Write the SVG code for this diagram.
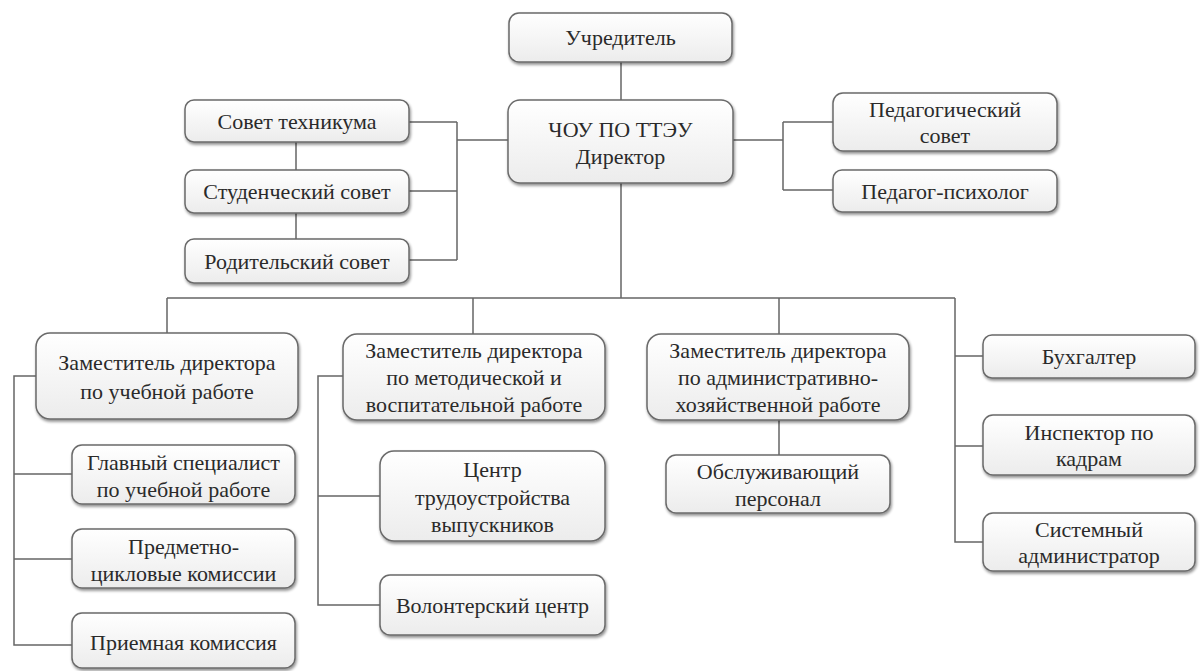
<svg xmlns="http://www.w3.org/2000/svg" width="1202" height="671" viewBox="0 0 1202 671" font-family="Liberation Serif, DejaVu Serif, Times New Roman, serif">
<defs>
<linearGradient id="g" x1="0" y1="0" x2="0" y2="1">
<stop offset="0" stop-color="#ffffff"/>
<stop offset="1" stop-color="#ececec"/>
</linearGradient>
<filter id="sh" x="-10%" y="-10%" width="130%" height="140%">
<feGaussianBlur in="SourceAlpha" stdDeviation="1.5"/>
<feOffset dx="1" dy="2" result="b"/>
<feComponentTransfer><feFuncA type="linear" slope="0.45"/></feComponentTransfer>
<feMerge><feMergeNode/><feMergeNode in="SourceGraphic"/></feMerge>
</filter>
</defs>
<style>
.b{fill:url(#g);stroke:#6a6a6a;stroke-width:1.5;filter:url(#sh)}
.t{font-size:22px;fill:#2a2a2a;text-anchor:middle}
.c{stroke:#666;stroke-width:1.5;fill:none}
</style>
<rect width="1202" height="671" fill="#fff"/>
<g id="connectors" class="c">
<path d="M621 62V100"/>
<path d="M621 183V298M167 298H955"/>
<path d="M296 142V170M296 213V239"/>
<path d="M409 122H457M409 191H457M409 260H457M457 122V260M457 140H508"/>
<path d="M733 140H783M783 122V190M783 122H833M783 190H833"/>
<path d="M167 298V333M473 298V334M779 298V334M779 420V455"/>
<path d="M36 376H14V645H72M14 474H72M14 559H72"/>
<path d="M343 376H318V605H380M318 496H380"/>
<path d="M955 298V542H983M955 356H983M955 446H983"/>
</g>
<g id="n-uchreditel"><rect class="b" x="509" y="13" width="223" height="49" rx="10"/><text class="t" x="620.5" y="45">Учредитель</text></g>
<g id="n-director"><rect class="b" x="508" y="100" width="225" height="83" rx="12"/><text class="t" x="620.5" y="137">ЧОУ ПО ТТЭУ</text><text class="t" x="620.5" y="164">Директор</text></g>
<g id="n-sovet-tech"><rect class="b" x="185" y="100" width="224" height="42" rx="9"/><text class="t" x="297" y="129">Совет техникума</text></g>
<g id="n-stud-sovet"><rect class="b" x="185" y="170" width="224" height="43" rx="9"/><text class="t" x="297" y="199">Студенческий совет</text></g>
<g id="n-rod-sovet"><rect class="b" x="185" y="239" width="224" height="44" rx="9"/><text class="t" x="297" y="269">Родительский совет</text></g>
<g id="n-ped-sovet"><rect class="b" x="833" y="93" width="224" height="58" rx="10"/><text class="t" x="945" y="117">Педагогический</text><text class="t" x="945" y="143">совет</text></g>
<g id="n-ped-psych"><rect class="b" x="833" y="170" width="224" height="42" rx="9"/><text class="t" x="945" y="199">Педагог-психолог</text></g>
<g id="n-zam-ucheb"><rect class="b" x="36" y="333" width="262" height="86" rx="14"/><text class="t" x="167" y="370">Заместитель директора</text><text class="t" x="167" y="399">по учебной работе</text></g>
<g id="n-glav-spec"><rect class="b" x="72" y="445" width="223" height="59" rx="10"/><text class="t" x="183.5" y="470">Главный специалист</text><text class="t" x="183.5" y="497">по учебной работе</text></g>
<g id="n-pck"><rect class="b" x="72" y="529" width="223" height="59" rx="10"/><text class="t" x="183.5" y="554">Предметно-</text><text class="t" x="183.5" y="581">цикловые комиссии</text></g>
<g id="n-priem"><rect class="b" x="72" y="613" width="223" height="55" rx="10"/><text class="t" x="183.5" y="650">Приемная комиссия</text></g>
<g id="n-zam-metod"><rect class="b" x="343" y="334" width="262" height="86" rx="14"/><text class="t" x="474" y="358">Заместитель директора</text><text class="t" x="474" y="385">по методической и</text><text class="t" x="474" y="412">воспитательной работе</text></g>
<g id="n-centr"><rect class="b" x="380" y="451" width="225" height="90" rx="14"/><text class="t" x="492.5" y="477">Центр</text><text class="t" x="492.5" y="505">трудоустройства</text><text class="t" x="492.5" y="532">выпускников</text></g>
<g id="n-volont"><rect class="b" x="380" y="575" width="225" height="60" rx="10"/><text class="t" x="492.5" y="613">Волонтерский центр</text></g>
<g id="n-zam-ahr"><rect class="b" x="647" y="334" width="262" height="86" rx="14"/><text class="t" x="778" y="358">Заместитель директора</text><text class="t" x="778" y="385">по административно-</text><text class="t" x="778" y="412">хозяйственной работе</text></g>
<g id="n-obsl"><rect class="b" x="666" y="455" width="224" height="58" rx="10"/><text class="t" x="778" y="479">Обслуживающий</text><text class="t" x="778" y="506">персонал</text></g>
<g id="n-buh"><rect class="b" x="983" y="335" width="212" height="43" rx="9"/><text class="t" x="1089" y="364">Бухгалтер</text></g>
<g id="n-insp"><rect class="b" x="983" y="415" width="212" height="60" rx="10"/><text class="t" x="1089" y="440">Инспектор по</text><text class="t" x="1089" y="466">кадрам</text></g>
<g id="n-sysadm"><rect class="b" x="983" y="513" width="212" height="58" rx="10"/><text class="t" x="1089" y="537">Системный</text><text class="t" x="1089" y="563">администратор</text></g>
</svg>
